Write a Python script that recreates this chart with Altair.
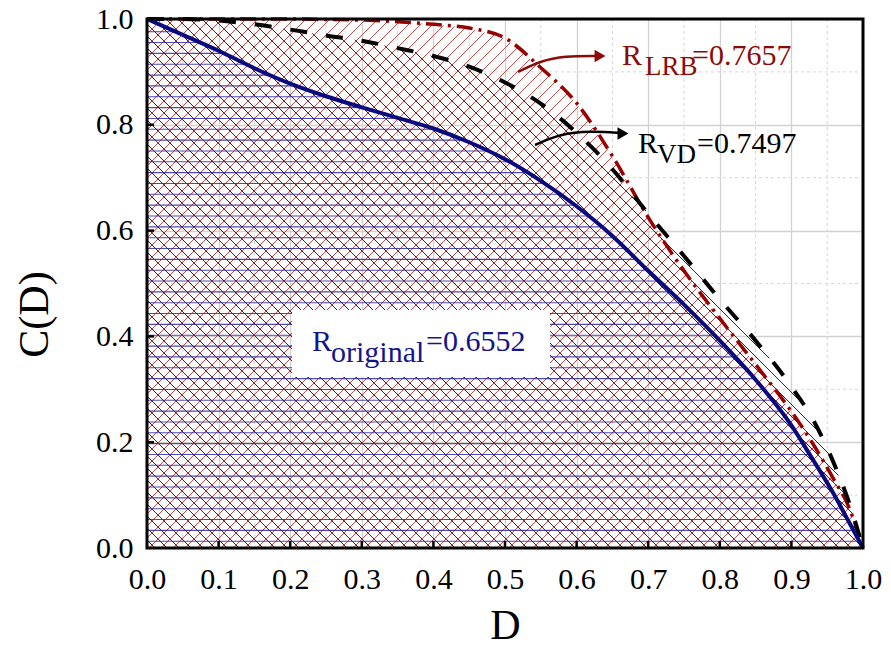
import altair as alt
import numpy as np
import pandas as pd

# ---------------- data ----------------
D = [0.0, 0.05, 0.1, 0.15, 0.2, 0.25, 0.3, 0.35, 0.4, 0.45, 0.5, 0.55, 0.6,
     0.65, 0.7, 0.75, 0.8, 0.85, 0.9, 0.93, 0.96, 0.98, 1.0]
C_original = [1.0, 0.97, 0.94, 0.907, 0.878, 0.854, 0.833, 0.813, 0.793, 0.767,
              0.735, 0.694, 0.646, 0.59, 0.524, 0.46, 0.392, 0.318, 0.232,
              0.167, 0.10, 0.05, 0.0]
C_VD = [1.0, 1.0, 0.997, 0.99, 0.98, 0.969, 0.959, 0.945, 0.93, 0.91, 0.88,
        0.84, 0.785, 0.716, 0.632, 0.552, 0.47, 0.392, 0.305, 0.243, 0.158,
        0.088, 0.0]
C_LRB = [1.0, 1.0, 1.0, 1.0, 1.0, 0.999, 0.998, 0.995, 0.99, 0.983, 0.964,
         0.908, 0.841, 0.741, 0.625, 0.524, 0.434, 0.347, 0.258, 0.197, 0.128,
         0.078, 0.0]

x_ticks = [0.0, 0.1, 0.2, 0.3, 0.4, 0.5, 0.6, 0.7, 0.8, 0.9, 1.0]
y_ticks = [0.0, 0.2, 0.4, 0.6, 0.8, 1.0]
x_minor = [0.05, 0.15, 0.25, 0.35, 0.45, 0.55, 0.65, 0.75, 0.85, 0.95]
y_minor = [0.1, 0.3, 0.5, 0.7, 0.9]

# annotation texts (pieces of subscripted labels)
ann_text = ["R", "LRB", "=0.7657", "R", "VD", "=0.7497", "R", "original", "=0.6552"]
ann_x = [0.6634, 0.6955, 0.7612, 0.6858, 0.7124, 0.7682, 0.2304, 0.2570, 0.3897]
ann_y = [0.9130, 0.8941, 0.9130, 0.7467, 0.7278, 0.7467, 0.3724, 0.3516, 0.3724]
ann_size = [30, 27, 30, 30, 27, 30, 30, 30, 30]
ann_color = ["#8b0a0a"] * 3 + ["#000000"] * 3 + ["#14148c"] * 3

# white label box behind R_original
box = {"x": 0.2025, "x2": 0.5628, "y": 0.3233, "y2": 0.4499}

# arrows (curved leaders)
arrow_red_x = [0.5182, 0.5489, 0.5838, 0.6285]
arrow_red_y = [0.8998, 0.9206, 0.9301, 0.9301]
arrow_blk_x = [0.5419, 0.5768, 0.6187, 0.6634]
arrow_blk_y = [0.7618, 0.7826, 0.7883, 0.7845]
head_x = [0.6327, 0.6648]
head_y = [0.9301, 0.7835]
head_col = ["#8b0a0a", "#000000"]

W, H = 716, 529

# ---------------- hatch geometry derived from the curves ----------------
def runs(mask):
    out = []
    start = None
    for i, m in enumerate(mask):
        if m and start is None:
            start = i
        if not m and start is not None:
            out.append((start, i - 1))
            start = None
    if start is not None:
        out.append((start, len(mask) - 1))
    return out


def hatch(curve, kind, spacing, phase=0.0):
    u = np.linspace(0, W, 4 * W + 1)
    f = np.interp(u / W, D, curve) * H
    rows = []
    if kind == "h":
        for v in np.arange(phase, H, spacing):
            mask = f >= v
            for a, b in runs(mask):
                if b > a:
                    rows.append((u[a] / W, v / H, u[b] / W, v / H))
    else:
        cs = np.arange(-H + phase, W + H, spacing)
        for c in cs:
            v = (u - c) if kind == "up" else (c - u)
            mask = (v >= 0) & (v <= f)
            for a, b in runs(mask):
                if b > a:
                    rows.append((u[a] / W, v[a] / H, u[b] / W, v[b] / H))
    return pd.DataFrame(rows, columns=["x", "y", "x2", "y2"])


h_red = hatch(C_LRB, "up", 12.0, 3.0)
h_blk = hatch(C_VD, "down", 12.0, 9.0)
h_blue = hatch(C_original, "h", 10.84, 6.8)

xs = alt.Scale(domain=[0, 1], nice=False, zero=False)
ys = alt.Scale(domain=[0, 1], nice=False, zero=False)
FONT = "Liberation Serif"

X_AX = alt.Axis(
    values=x_ticks, format=".1f", title="D", grid=True, gridColor="#d2d2d2",
    gridWidth=1.3, domain=False, ticks=False,
    labelFont=FONT, labelFontSize=30, labelColor="black", labelPadding=40,
    labelBaseline="alphabetic", labelFlush=False, labelOverlap=False,
    titleFont=FONT, titleFontSize=42, titleFontWeight="normal", titleColor="black",
    titleY=90, titleBaseline="alphabetic")
Y_AX = alt.Axis(
    values=y_ticks, format=".1f", title="C(D)", grid=True, gridColor="#d2d2d2",
    gridWidth=1.3, domain=False, ticks=False,
    labelFont=FONT, labelFontSize=30, labelColor="black", labelPadding=14,
    labelFlush=False, labelOverlap=False,
    titleFont=FONT, titleFontSize=42, titleFontWeight="normal", titleColor="black",
    titleX=-100, titleY=295, titleAngle=270, titleBaseline="alphabetic",
    titleAlign="center")


def X(field):
    return alt.X(field, type="quantitative", scale=xs, axis=X_AX)


def Y(field):
    return alt.Y(field, type="quantitative", scale=ys, axis=Y_AX)


def hatch_layer(df, color, width, opacity):
    return alt.Chart(df).mark_rule(color=color, strokeWidth=width, opacity=opacity).encode(
        x=X("x"), y=Y("y"), x2="x2:Q", y2="y2:Q")


curves = pd.DataFrame({"D": D, "orig": C_original, "vd": C_VD, "lrb": C_LRB})

minor_x = alt.Chart(pd.DataFrame({"m": x_minor})).mark_rule(
    color="#d6d6d6", strokeWidth=1, strokeDash=[3, 3]).encode(
    x=X("m"), y=alt.value(0), y2=alt.value(H))
minor_y = alt.Chart(pd.DataFrame({"m": y_minor})).mark_rule(
    color="#d6d6d6", strokeWidth=1, strokeDash=[3, 3]).encode(
    y=Y("m"), x=alt.value(0), x2=alt.value(W))


def curve_layer(field, color, width, dash=None):
    kw = dict(color=color, strokeWidth=width, interpolate="monotone")
    if dash:
        kw["strokeDash"] = dash
    return alt.Chart(curves).mark_line(**kw).encode(x=X("D"), y=Y(field))


line_lrb = curve_layer("lrb", "#990000", 3.5, [16, 6, 3, 6])
line_vd = curve_layer("vd", "#000000", 4, [17, 19])
line_orig = curve_layer("orig", "#0a0a80", 4)

box_layer = alt.Chart(pd.DataFrame([box])).mark_rect(color="white").encode(
    x=X("x"), x2="x2:Q", y=Y("y"), y2="y2:Q")

ann = pd.DataFrame({"x": ann_x, "y": ann_y, "t": ann_text, "s": ann_size, "c": ann_color})
text_layer = alt.Chart(ann).mark_text(align="left", baseline="alphabetic", font=FONT).encode(
    x=X("x"), y=Y("y"),
    text="t:N", size=alt.Size("s:Q", scale=None, legend=None),
    color=alt.Color("c:N", scale=None, legend=None))

arr_red = alt.Chart(pd.DataFrame({"x": arrow_red_x, "y": arrow_red_y})).mark_line(
    color="#8b0a0a", strokeWidth=2.5, interpolate="basis").encode(x=X("x"), y=Y("y"))
arr_blk = alt.Chart(pd.DataFrame({"x": arrow_blk_x, "y": arrow_blk_y})).mark_line(
    color="#000000", strokeWidth=2.5, interpolate="basis").encode(x=X("x"), y=Y("y"))
heads = alt.Chart(pd.DataFrame({"x": head_x, "y": head_y, "c": head_col})).mark_point(
    shape="triangle-right", filled=True, size=160, opacity=1).encode(
    x=X("x"), y=Y("y"), color=alt.Color("c:N", scale=None, legend=None))

tick_x = alt.Chart(pd.DataFrame({"t": x_ticks[1:-1]})).mark_rule(
    color="black", strokeWidth=2.5).encode(
    x=X("t"), y=alt.value(H), y2=alt.value(H - 7))
tick_y = alt.Chart(pd.DataFrame({"t": y_ticks[1:-1]})).mark_rule(
    color="black", strokeWidth=2.5).encode(
    y=Y("t"), x=alt.value(0), x2=alt.value(7))

frame = alt.Chart(pd.DataFrame({"a": [0]})).mark_rect(
    filled=False, stroke="black", strokeWidth=3).encode(
    x=alt.value(0), x2=alt.value(W), y=alt.value(0), y2=alt.value(H))

chart = alt.layer(
    minor_x, minor_y,
    hatch_layer(h_red, "#b03a3a", 1, 0.9),
    hatch_layer(h_blk, "#222222", 1, 0.95),
    hatch_layer(h_blue, "#1f1fa0", 1.1, 0.8),
    line_lrb, line_vd, line_orig,
    box_layer, text_layer, arr_red, arr_blk, heads,
    tick_x, tick_y, frame,
).properties(
    width=W, height=H, autosize="none",
    padding={"left": 139, "top": 11, "right": 20, "bottom": 100},
).configure_view(stroke=None)

chart.save("out.html", embed_options={"renderer": "svg", "actions": False})
